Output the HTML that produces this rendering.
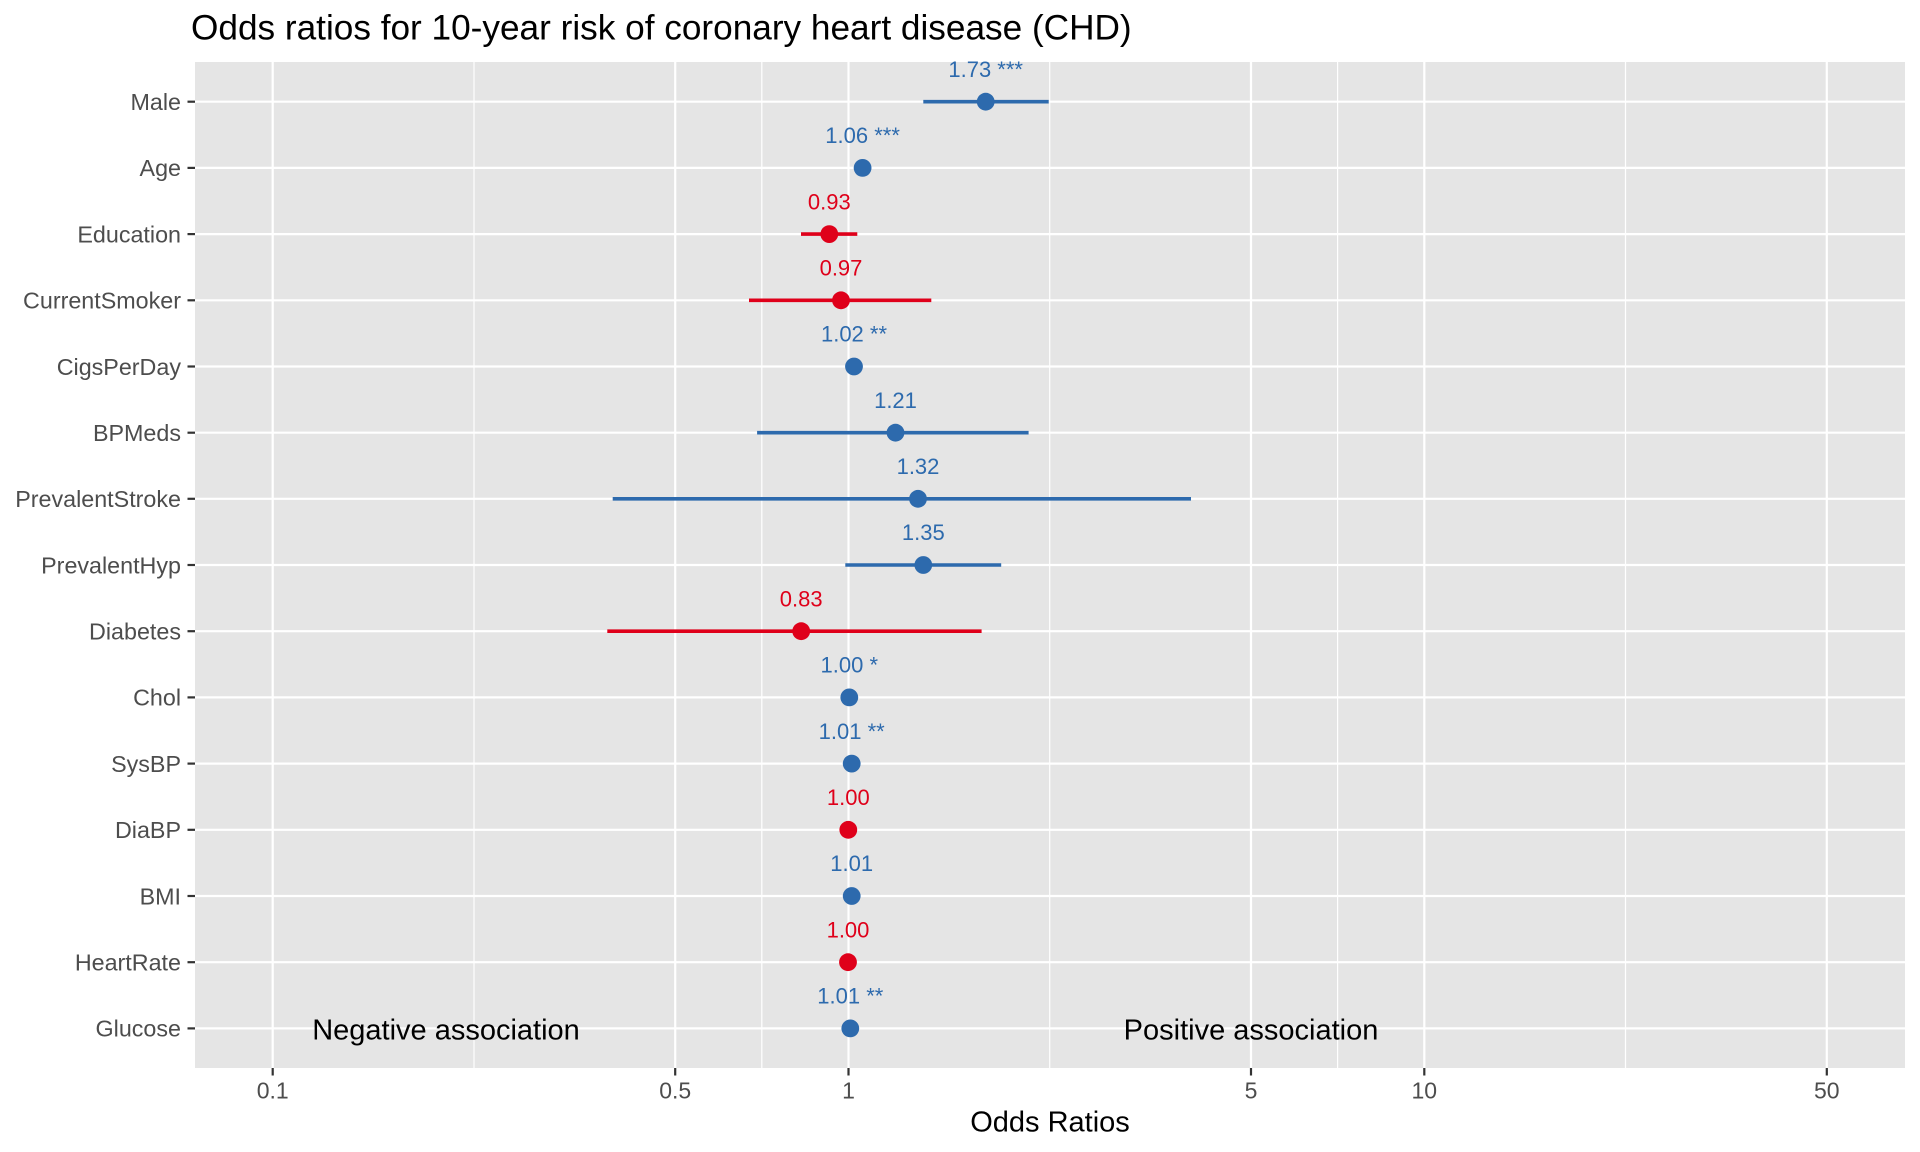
<!DOCTYPE html>
<html>
<head>
<meta charset="utf-8">
<style>
  html, body { margin: 0; padding: 0; background: #ffffff; }
  svg { display: block; }
  text { font-family: "Liberation Sans", Arial, sans-serif; }
</style>
</head>
<body>
<svg width="1920" height="1152" viewBox="0 0 1920 1152" xmlns="http://www.w3.org/2000/svg">
  <rect x="0" y="0" width="1920" height="1152" fill="#ffffff"/>

  <!-- Title -->
  <text x="191" y="39.5" font-size="35.2" fill="#000000">Odds ratios for 10-year risk of coronary heart disease (CHD)</text>

  <!-- Panel -->
  <rect x="195" y="62" width="1710" height="1006" fill="#E5E5E5"/>

  <!-- Minor vertical gridlines -->
  <g stroke="#ffffff" stroke-width="1.2">
    <line x1="474.0" y1="62" x2="474.0" y2="1068"/>
    <line x1="761.8" y1="62" x2="761.8" y2="1068"/>
    <line x1="1049.7" y1="62" x2="1049.7" y2="1068"/>
    <line x1="1337.6" y1="62" x2="1337.6" y2="1068"/>
    <line x1="1625.5" y1="62" x2="1625.5" y2="1068"/>
  </g>

  <!-- Major vertical gridlines -->
  <g stroke="#ffffff" stroke-width="2.2">
    <line x1="272.7" y1="62" x2="272.7" y2="1068"/>
    <line x1="675.2" y1="62" x2="675.2" y2="1068"/>
    <line x1="848.5" y1="62" x2="848.5" y2="1068"/>
    <line x1="1251.0" y1="62" x2="1251.0" y2="1068"/>
    <line x1="1424.3" y1="62" x2="1424.3" y2="1068"/>
    <line x1="1826.8" y1="62" x2="1826.8" y2="1068"/>
  </g>

  <!-- Horizontal gridlines -->
  <g stroke="#ffffff" stroke-width="2.2">
    <line x1="195" y1="101.7" x2="1905" y2="101.7"/>
    <line x1="195" y1="167.9" x2="1905" y2="167.9"/>
    <line x1="195" y1="234.1" x2="1905" y2="234.1"/>
    <line x1="195" y1="300.3" x2="1905" y2="300.3"/>
    <line x1="195" y1="366.5" x2="1905" y2="366.5"/>
    <line x1="195" y1="432.7" x2="1905" y2="432.7"/>
    <line x1="195" y1="498.8" x2="1905" y2="498.8"/>
    <line x1="195" y1="565.0" x2="1905" y2="565.0"/>
    <line x1="195" y1="631.2" x2="1905" y2="631.2"/>
    <line x1="195" y1="697.4" x2="1905" y2="697.4"/>
    <line x1="195" y1="763.6" x2="1905" y2="763.6"/>
    <line x1="195" y1="829.8" x2="1905" y2="829.8"/>
    <line x1="195" y1="896.0" x2="1905" y2="896.0"/>
    <line x1="195" y1="962.2" x2="1905" y2="962.2"/>
    <line x1="195" y1="1028.4" x2="1905" y2="1028.4"/>
  </g>

  <!-- Annotations -->
  <text x="446" y="1039.3" font-size="29" fill="#000000" text-anchor="middle">Negative association</text>
  <text x="1251" y="1039.3" font-size="29" fill="#000000" text-anchor="middle">Positive association</text>

  <!-- CI lines -->
  <g stroke-width="3.6" stroke-linecap="butt">
    <line x1="923.3" y1="101.7" x2="1048.7" y2="101.7" stroke="#2D6AAD"/>
    <line x1="858" y1="167.9" x2="867" y2="167.9" stroke="#2D6AAD"/>
    <line x1="801" y1="234.1" x2="857.3" y2="234.1" stroke="#DF001A"/>
    <line x1="749" y1="300.3" x2="931.3" y2="300.3" stroke="#DF001A"/>
    <line x1="850" y1="366.5" x2="858" y2="366.5" stroke="#2D6AAD"/>
    <line x1="757.1" y1="432.7" x2="1028.6" y2="432.7" stroke="#2D6AAD"/>
    <line x1="612.7" y1="498.8" x2="1191" y2="498.8" stroke="#2D6AAD"/>
    <line x1="845.3" y1="565.0" x2="1001.2" y2="565.0" stroke="#2D6AAD"/>
    <line x1="607.3" y1="631.2" x2="981.6" y2="631.2" stroke="#DF001A"/>
  </g>

  <!-- Points -->
  <g>
    <circle cx="985.7" cy="101.7" r="8.9" fill="#2D6AAD"/>
    <circle cx="862.6" cy="167.9" r="8.9" fill="#2D6AAD"/>
    <circle cx="829.3" cy="234.1" r="8.9" fill="#DF001A"/>
    <circle cx="841.0" cy="300.3" r="8.9" fill="#DF001A"/>
    <circle cx="854.0" cy="366.5" r="8.9" fill="#2D6AAD"/>
    <circle cx="895.5" cy="432.7" r="8.9" fill="#2D6AAD"/>
    <circle cx="918.0" cy="498.8" r="8.9" fill="#2D6AAD"/>
    <circle cx="923.3" cy="565.0" r="8.9" fill="#2D6AAD"/>
    <circle cx="801.2" cy="631.2" r="8.9" fill="#DF001A"/>
    <circle cx="849.3" cy="697.4" r="8.9" fill="#2D6AAD"/>
    <circle cx="851.7" cy="763.6" r="8.9" fill="#2D6AAD"/>
    <circle cx="848.3" cy="829.8" r="8.9" fill="#DF001A"/>
    <circle cx="851.7" cy="896.0" r="8.9" fill="#2D6AAD"/>
    <circle cx="848.0" cy="962.2" r="8.9" fill="#DF001A"/>
    <circle cx="850.3" cy="1028.4" r="8.9" fill="#2D6AAD"/>
  </g>

  <!-- Value labels -->
  <g font-size="22" text-anchor="middle">
    <text x="985.7" y="76.9" fill="#2D6AAD">1.73 ***</text>
    <text x="862.6" y="143.1" fill="#2D6AAD">1.06 ***</text>
    <text x="829.3" y="209.3" fill="#DF001A">0.93</text>
    <text x="841.0" y="275.5" fill="#DF001A">0.97</text>
    <text x="854.0" y="341.7" fill="#2D6AAD">1.02 **</text>
    <text x="895.5" y="407.9" fill="#2D6AAD">1.21</text>
    <text x="918.0" y="474.0" fill="#2D6AAD">1.32</text>
    <text x="923.3" y="540.2" fill="#2D6AAD">1.35</text>
    <text x="801.2" y="606.4" fill="#DF001A">0.83</text>
    <text x="849.3" y="672.6" fill="#2D6AAD">1.00 *</text>
    <text x="851.7" y="738.8" fill="#2D6AAD">1.01 **</text>
    <text x="848.3" y="805.0" fill="#DF001A">1.00</text>
    <text x="851.7" y="871.2" fill="#2D6AAD">1.01</text>
    <text x="848.0" y="937.4" fill="#DF001A">1.00</text>
    <text x="850.3" y="1003.6" fill="#2D6AAD">1.01 **</text>
  </g>

  <!-- Y axis ticks -->
  <g stroke="#333333" stroke-width="2.2">
    <line x1="187.5" y1="101.7" x2="195" y2="101.7"/>
    <line x1="187.5" y1="167.9" x2="195" y2="167.9"/>
    <line x1="187.5" y1="234.1" x2="195" y2="234.1"/>
    <line x1="187.5" y1="300.3" x2="195" y2="300.3"/>
    <line x1="187.5" y1="366.5" x2="195" y2="366.5"/>
    <line x1="187.5" y1="432.7" x2="195" y2="432.7"/>
    <line x1="187.5" y1="498.8" x2="195" y2="498.8"/>
    <line x1="187.5" y1="565.0" x2="195" y2="565.0"/>
    <line x1="187.5" y1="631.2" x2="195" y2="631.2"/>
    <line x1="187.5" y1="697.4" x2="195" y2="697.4"/>
    <line x1="187.5" y1="763.6" x2="195" y2="763.6"/>
    <line x1="187.5" y1="829.8" x2="195" y2="829.8"/>
    <line x1="187.5" y1="896.0" x2="195" y2="896.0"/>
    <line x1="187.5" y1="962.2" x2="195" y2="962.2"/>
    <line x1="187.5" y1="1028.4" x2="195" y2="1028.4"/>
  </g>

  <!-- Y axis labels -->
  <g font-size="23.3" fill="#4D4D4D" text-anchor="end">
    <text x="181" y="110.0">Male</text>
    <text x="181" y="176.2">Age</text>
    <text x="181" y="242.4">Education</text>
    <text x="181" y="308.6">CurrentSmoker</text>
    <text x="181" y="374.8">CigsPerDay</text>
    <text x="181" y="441.0">BPMeds</text>
    <text x="181" y="507.1">PrevalentStroke</text>
    <text x="181" y="573.3">PrevalentHyp</text>
    <text x="181" y="639.5">Diabetes</text>
    <text x="181" y="705.7">Chol</text>
    <text x="181" y="771.9">SysBP</text>
    <text x="181" y="838.1">DiaBP</text>
    <text x="181" y="904.3">BMI</text>
    <text x="181" y="970.5">HeartRate</text>
    <text x="181" y="1036.7">Glucose</text>
  </g>

  <!-- X axis ticks -->
  <g stroke="#333333" stroke-width="2.2">
    <line x1="272.7" y1="1068" x2="272.7" y2="1075.5"/>
    <line x1="675.2" y1="1068" x2="675.2" y2="1075.5"/>
    <line x1="848.5" y1="1068" x2="848.5" y2="1075.5"/>
    <line x1="1251.0" y1="1068" x2="1251.0" y2="1075.5"/>
    <line x1="1424.3" y1="1068" x2="1424.3" y2="1075.5"/>
    <line x1="1826.8" y1="1068" x2="1826.8" y2="1075.5"/>
  </g>

  <!-- X axis labels -->
  <g font-size="23" fill="#4D4D4D" text-anchor="middle">
    <text x="272.7" y="1098.3">0.1</text>
    <text x="675.2" y="1098.3">0.5</text>
    <text x="848.5" y="1098.3">1</text>
    <text x="1251.0" y="1098.3">5</text>
    <text x="1424.3" y="1098.3">10</text>
    <text x="1826.8" y="1098.3">50</text>
  </g>

  <!-- X axis title -->
  <text x="1050" y="1131.5" font-size="29" fill="#000000" text-anchor="middle">Odds Ratios</text>
</svg>
</body>
</html>
